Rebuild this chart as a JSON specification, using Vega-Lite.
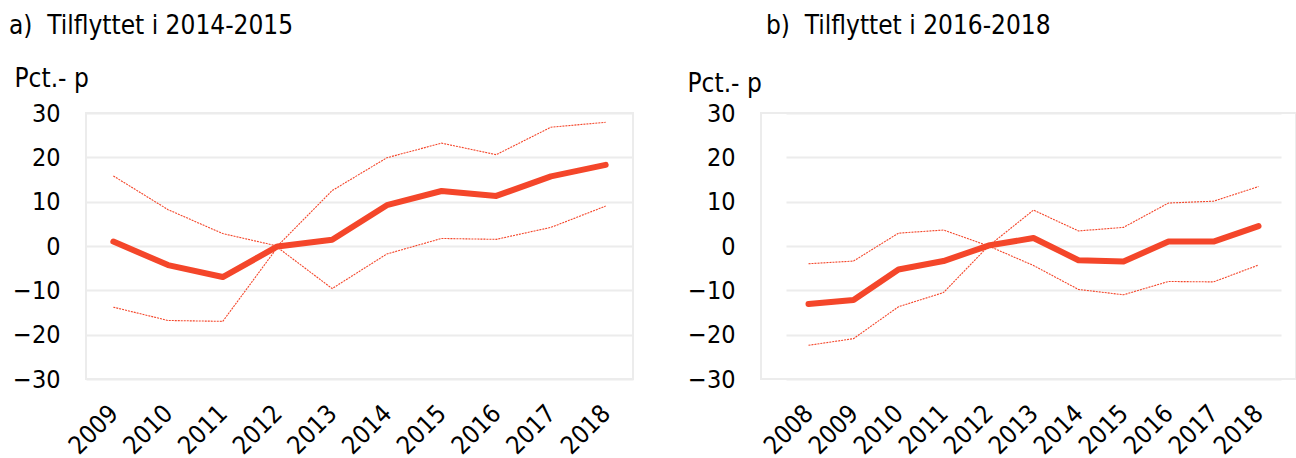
{
  "$schema": "https://vega.github.io/schema/vega-lite/v6.json",
  "padding": {"left": 8, "top": 12, "right": 0, "bottom": 0},
  "background": "white",
  "config": {
    "font": "DejaVu Sans Condensed, DejaVu Sans",
    "view": {"stroke": "#ececec", "strokeWidth": 2},
    "axis": {
      "labelFont": "DejaVu Sans Condensed, DejaVu Sans",
      "labelFontSize": 25,
      "labelColor": "#000000",
      "titleFont": "DejaVu Sans Condensed, DejaVu Sans",
      "titleFontSize": 26,
      "titleFontWeight": "normal",
      "titleColor": "#000000",
      "domain": false,
      "ticks": false,
      "tickSize": 0,
      "gridColor": "#ececec",
      "gridWidth": 2
    },
    "title": {
      "font": "DejaVu Sans Condensed, DejaVu Sans",
      "fontSize": 26,
      "fontWeight": "normal",
      "color": "#000000",
      "baseline": "alphabetic"
    },
    "concat": {"spacing": 52}
  },
  "datasets": {
    "a": [
      {"year": "2009", "series": "main", "value": 1.0},
      {"year": "2010", "series": "main", "value": -4.3},
      {"year": "2011", "series": "main", "value": -7.0},
      {"year": "2012", "series": "main", "value": -0.1},
      {"year": "2013", "series": "main", "value": 1.4},
      {"year": "2014", "series": "main", "value": 9.2},
      {"year": "2015", "series": "main", "value": 12.4},
      {"year": "2016", "series": "main", "value": 11.3},
      {"year": "2017", "series": "main", "value": 15.7},
      {"year": "2018", "series": "main", "value": 18.3},
      {"year": "2009", "series": "high", "value": 15.8},
      {"year": "2010", "series": "high", "value": 8.2},
      {"year": "2011", "series": "high", "value": 2.8},
      {"year": "2012", "series": "high", "value": 0.0},
      {"year": "2013", "series": "high", "value": 12.5},
      {"year": "2014", "series": "high", "value": 19.9},
      {"year": "2015", "series": "high", "value": 23.2},
      {"year": "2016", "series": "high", "value": 20.6},
      {"year": "2017", "series": "high", "value": 26.8},
      {"year": "2018", "series": "high", "value": 27.9},
      {"year": "2009", "series": "low", "value": -13.8},
      {"year": "2010", "series": "low", "value": -16.8},
      {"year": "2011", "series": "low", "value": -17.0},
      {"year": "2012", "series": "low", "value": -0.3},
      {"year": "2013", "series": "low", "value": -9.6},
      {"year": "2014", "series": "low", "value": -1.8},
      {"year": "2015", "series": "low", "value": 1.7},
      {"year": "2016", "series": "low", "value": 1.5},
      {"year": "2017", "series": "low", "value": 4.2},
      {"year": "2018", "series": "low", "value": 9.0}
    ],
    "b": [
      {"year": "2008", "series": "main", "value": -13.1},
      {"year": "2009", "series": "main", "value": -12.2},
      {"year": "2010", "series": "main", "value": -5.3},
      {"year": "2011", "series": "main", "value": -3.4},
      {"year": "2012", "series": "main", "value": 0.1},
      {"year": "2013", "series": "main", "value": 1.8},
      {"year": "2014", "series": "main", "value": -3.2},
      {"year": "2015", "series": "main", "value": -3.5},
      {"year": "2016", "series": "main", "value": 1.0},
      {"year": "2017", "series": "main", "value": 1.0},
      {"year": "2018", "series": "main", "value": 4.5},
      {"year": "2008", "series": "high", "value": -4.0},
      {"year": "2009", "series": "high", "value": -3.4},
      {"year": "2010", "series": "high", "value": 2.9},
      {"year": "2011", "series": "high", "value": 3.6},
      {"year": "2012", "series": "high", "value": 0.0},
      {"year": "2013", "series": "high", "value": 8.1},
      {"year": "2014", "series": "high", "value": 3.4},
      {"year": "2015", "series": "high", "value": 4.2},
      {"year": "2016", "series": "high", "value": 9.7},
      {"year": "2017", "series": "high", "value": 10.1},
      {"year": "2018", "series": "high", "value": 13.4},
      {"year": "2008", "series": "low", "value": -22.4},
      {"year": "2009", "series": "low", "value": -20.9},
      {"year": "2010", "series": "low", "value": -13.7},
      {"year": "2011", "series": "low", "value": -10.5},
      {"year": "2012", "series": "low", "value": 0.0},
      {"year": "2013", "series": "low", "value": -4.4},
      {"year": "2014", "series": "low", "value": -9.8},
      {"year": "2015", "series": "low", "value": -11.0},
      {"year": "2016", "series": "low", "value": -8.0},
      {"year": "2017", "series": "low", "value": -8.1},
      {"year": "2018", "series": "low", "value": -4.3}
    ]
  },
  "hconcat": [
    {
      "width": 547,
      "height": 266,
      "title": {"text": "a)\u00a0 Tilflyttet i 2014-2015", "anchor": "start", "frame": "group", "dx": -77, "offset": 26},
      "data": {"name": "a"},
      "encoding": {
        "x": {"field": "year", "type": "ordinal", "scale": {"type": "point", "padding": 0.5},
              "axis": {"title": null, "labelAngle": -45, "labelAlign": "right", "labelBaseline": "middle", "labelPadding": 30, "grid": false}},
        "y": {"field": "value", "type": "quantitative", "scale": {"domain": [-30, 30], "nice": false},
              "axis": {"values": [-30, -20, -10, 0, 10, 20, 30], "grid": true, "labelPadding": 26,
                       "title": "Pct.- p", "titleAngle": 0, "titleAlign": "left", "titleBaseline": "alphabetic", "titleX": -72, "titleY": -27}}
      },
      "layer": [
        {
          "transform": [{"filter": "datum.series != 'main'"}],
          "mark": {"type": "line", "strokeWidth": 1.1, "strokeDash": [2, 1], "color": "#F4462A"},
          "encoding": {"detail": {"field": "series"}}
        },
        {
          "transform": [{"filter": "datum.series == 'main'"}],
          "mark": {"type": "line", "strokeWidth": 6, "strokeCap": "round", "strokeJoin": "round", "color": "#F4462A"},
          "encoding": {}
        }
      ]
    },
    {
      "width": 535,
      "height": 266,
      "title": {"text": "b)\u00a0 Tilflyttet i 2016-2018", "anchor": "start", "frame": "group", "dx": 5, "offset": 31},
      "data": {"name": "b"},
      "encoding": {
        "x": {"field": "year", "type": "ordinal", "scale": {"type": "point", "range": [25, 520]},
              "axis": {"title": null, "labelAngle": -45, "labelAlign": "right", "labelBaseline": "middle", "labelPadding": 30, "grid": false}},
        "y": {"field": "value", "type": "quantitative", "scale": {"domain": [-30, 30], "nice": false},
              "axis": {"values": [-30, -20, -10, 0, 10, 20, 30], "grid": true, "labelPadding": 26,
                       "title": "Pct.- p", "titleAngle": 0, "titleAlign": "left", "titleBaseline": "alphabetic", "titleX": -74, "titleY": -22}}
      },
      "layer": [
        {
          "transform": [{"filter": "datum.series != 'main'"}],
          "mark": {"type": "line", "strokeWidth": 1.1, "strokeDash": [2, 1], "color": "#F4462A"},
          "encoding": {"detail": {"field": "series"}}
        },
        {
          "transform": [{"filter": "datum.series == 'main'"}],
          "mark": {"type": "line", "strokeWidth": 6, "strokeCap": "round", "strokeJoin": "round", "color": "#F4462A"},
          "encoding": {}
        }
      ]
    }
  ]
}
